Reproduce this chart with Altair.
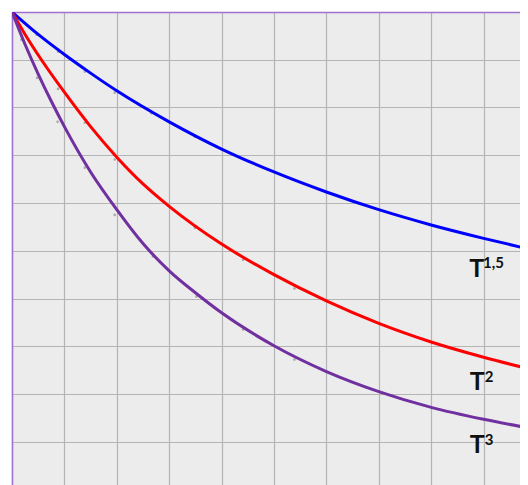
import altair as alt
import pandas as pd

# curve readings (x in grid units to the right, y in grid units downward from the top)
x_blue = [0, 0.5, 1, 1.5, 2, 3, 4, 5, 6, 7, 8, 9, 9.85]
y_blue = [0, 0.47, 0.89, 1.28, 1.65, 2.30, 2.87, 3.35, 3.77, 4.14, 4.46, 4.74, 4.96]

x_red = [0, 0.25, 0.5, 1, 1.5, 2, 2.5, 3, 4, 5, 6, 7, 8, 9, 9.85]
y_red = [0, 0.47, 0.90, 1.68, 2.40, 3.04, 3.60, 4.07, 4.86, 5.50, 6.05, 6.52, 6.91, 7.23, 7.47]

x_purple = [0, 0.25, 0.5, 0.75, 1, 1.5, 2, 2.5, 3, 3.5, 4, 5, 6, 7, 8, 9, 9.85]
y_purple = [0, 0.68, 1.30, 1.87, 2.40, 3.35, 4.14, 4.85, 5.42, 5.88, 6.30, 6.99, 7.53, 7.95, 8.28, 8.53, 8.71]

# faint grey marker dots
dx_blue = [0.47, 0.88, 1.39, 1.96, 2.66, 3.49, 4.41, 5.36]
dy_blue = [0.475, 0.83, 1.25, 1.69, 2.12, 2.61, 3.08, 3.51]
dx_red = [0.88, 1.39, 1.96, 2.69, 3.49, 4.41, 5.39]
dy_red = [1.61, 2.32, 3.09, 3.78, 4.52, 5.19, 5.79]
dx_purple = [0.18, 0.48, 0.87, 1.39, 1.96, 2.69, 3.52, 4.41, 5.39]
dy_purple = [0.58, 1.38, 2.30, 3.26, 4.25, 5.12, 5.96, 6.65, 7.28]

series_names = ["T1.5", "T2", "T3"]
series_colors = ["#0000ff", "#ff0000", "#7030a0"]

label_base = ["T", "T", "T"]
label_sup = ["1,5", "2", "3"]
label_x = [8.87, 8.88, 8.88]
label_y = [5.56, 7.91, 9.23]
sup_x = [8.99, 9.02, 9.02]
sup_y = [5.36, 7.74, 9.06]

grid_x = list(range(0, 10))
grid_y = list(range(0, 10))

W, H = 508, 473
XMAX = W / 52.4
YMAX = H / 47.75

rows = []
for name, xs_, ys_ in zip(series_names, [x_blue, x_red, x_purple], [y_blue, y_red, y_purple]):
    for i, (a, b) in enumerate(zip(xs_, ys_)):
        rows.append({"s": name, "x": a, "y": b, "o": i})
curves = pd.DataFrame(rows)

drows = []
for xs_, ys_ in zip([dx_blue, dx_red, dx_purple], [dy_blue, dy_red, dy_purple]):
    for a, b in zip(xs_, ys_):
        drows.append({"x": a, "y": b})
dots = pd.DataFrame(drows)

labels = pd.DataFrame({"t": label_base, "x": label_x, "y": label_y})
sups = pd.DataFrame({"t": label_sup, "x": sup_x, "y": sup_y})

xs = alt.Scale(domain=[0, XMAX], nice=False, zero=False)
ys = alt.Scale(domain=[0, YMAX], nice=False, zero=False, reverse=True)

xax = alt.Axis(orient="top", values=grid_x, grid=True, gridColor="#b4b4b4", gridWidth=1.2,
               domainColor="#a070d0", domainWidth=1.5, ticks=False, labels=False, title=None)
yax = alt.Axis(orient="left", values=grid_y, grid=True, gridColor="#b4b4b4", gridWidth=1.2,
               domainColor="#a070d0", domainWidth=1.5, ticks=False, labels=False, title=None)

dot_layer = alt.Chart(dots).mark_circle(size=7, color="#9a9a9a", opacity=0.8, clip=True).encode(
    x=alt.X("x:Q", scale=xs, axis=xax),
    y=alt.Y("y:Q", scale=ys, axis=yax),
)

line_layer = alt.Chart(curves).mark_line(strokeWidth=3, interpolate="monotone", clip=True).encode(
    x=alt.X("x:Q", scale=xs),
    y=alt.Y("y:Q", scale=ys),
    color=alt.Color("s:N", scale=alt.Scale(domain=series_names, range=series_colors), legend=None),
    order="o:Q",
)

lab_layer = alt.Chart(labels).mark_text(font="Lato", fontSize=25, fontWeight="bold", color="#111111",
                                         align="center", baseline="alphabetic").encode(
    x=alt.X("x:Q", scale=xs), y=alt.Y("y:Q", scale=ys), text="t:N")

sup_layer = alt.Chart(sups).mark_text(font="Lato", fontSize=15, fontWeight="bold", color="#111111",
                                       align="left", baseline="alphabetic").encode(
    x=alt.X("x:Q", scale=xs), y=alt.Y("y:Q", scale=ys), text="t:N")

chart = alt.layer(dot_layer, line_layer, lab_layer, sup_layer).properties(
    width=W, height=H,
    padding={"left": 4, "top": 4, "right": 0, "bottom": 0},
    background="white",
).configure_view(fill="#ececec", stroke=None)

chart.save("out.html", embed_options={"renderer": "svg", "actions": False})
